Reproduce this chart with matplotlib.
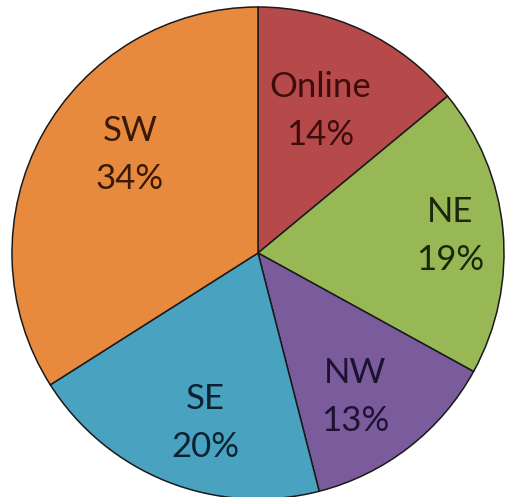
import matplotlib.pyplot as plt
import numpy as np

# Share of sales by region (clockwise from 12 o'clock)
regions = ["Online", "NE", "NW", "SE", "SW"]
shares = [14, 19, 13, 20, 34]

colors = ["#B6494A", "#98B855", "#7A5C9D", "#48A2C0", "#E88A3E"]
text_colors = ["#3d0d0d", "#1c260a", "#1e1230", "#0d2230", "#3a1a06"]
# label placement: distance from centre and small angle tweak (deg)
label_r = [0.63, 0.785, 0.705, 0.724, 0.655]
label_dang = [1.6, -0.4, -3.8, 4.3, -8.6]

fig = plt.figure(figsize=(5.05, 4.97), dpi=100)
ax = fig.add_axes([0.0, 0.0, 1.0, 1.0])

wedges, _ = ax.pie(shares, colors=colors, startangle=90, counterclock=False,
                   radius=1.0, center=(0, 0),
                   wedgeprops={"edgecolor": "#1a1a1a", "linewidth": 1.1})

for w, name, s, r, da, tc in zip(wedges, regions, shares, label_r, label_dang, text_colors):
    mid = np.deg2rad((w.theta1 + w.theta2) / 2 + da)
    ax.text(r * np.cos(mid), r * np.sin(mid), f"{name}\n{s}%",
            ha="center", va="center", fontsize=25, color=tc,
            family="Lato", linespacing=1.6)

# pie centre sits at about (258, 253) px with radius ~246 px
ax.set_xlim(-258 / 246, (505 - 258) / 246)
ax.set_ylim(-(497 - 253) / 246, 253 / 246)
ax.set_aspect("auto")
ax.axis("off")

fig.savefig("out.png", dpi=100)
